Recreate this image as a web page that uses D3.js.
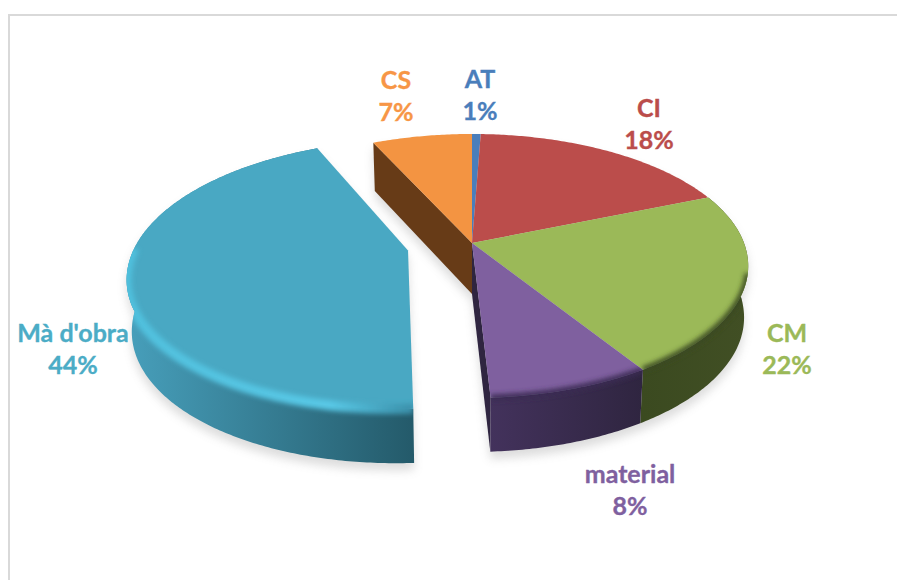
<!DOCTYPE html>
<html><head><meta charset="utf-8">
<script src="https://cdn.jsdelivr.net/npm/d3@7"></script>
<style>html,body{margin:0;padding:0;background:#fff}svg{display:block}text{font-family:Lato,sans-serif;font-weight:700;font-size:25px;stroke-width:.35px;paint-order:stroke}</style>
</head><body><svg id="c" width="897" height="580"></svg>
<script>
const categories=["AT","CI","CM","material","Mà d'obra","CS"];
const values=[0.6,18.2,22.2,8.1,44,6.9];
const topColors=["#4a7ebb","#bb4d4b","#9bb958","#7f609f","#49a8c3","#f39442"];
const sideColors=[["#2f4b70","#2f4b70"],["#6f2d2c","#6f2d2c"],["#3b4a20","#414f24"],["#43325c","#2f2540"],["#479fbb","#245a6a"],["#673b17","#673b17"]];
const rimColors=[null,null,"#3b4a20","#3a2c52",null,null];
const labelColors=["#4a7ebb","#bb4d4b","#9bb958","#7f609f","#4bacc6","#f79646"];
const labelPos=[[480,79],[649,108],[787,333],[630,474],[73,333],[396,80]];
const exploded=[0,0,0,0,0.24,0];

const svg=d3.select("#c");
const defs=svg.append("defs");
const cx=472,cy=243,rx=272,ry=128,k=-0.174,shrink=.985;
function proj(u,v,down){
  const den=1+k*v, x=rx*u/den, y=cy+ry*v/den;
  return down?[cx+x*shrink,y+51+3*v]:[cx+x,y];
}
const arcs=d3.pie().sort(null).value(d=>d).startAngle(0).endAngle(2*Math.PI)(values);
const line=d3.line();
const fmt=d=>Math.round(d)+"%";
const total=d3.sum(values);

function blur(id,sd){
  defs.append("filter").attr("id",id).attr("filterUnits","userSpaceOnUse")
    .attr("x",0).attr("y",0).attr("width",897).attr("height",580)
    .append("feGaussianBlur").attr("stdDeviation",sd);
}
blur("sh",5); blur("rb",2.4);

svg.append("rect").attr("x",9).attr("y",15).attr("width",1000).attr("height",1000)
  .attr("fill","none").attr("stroke","#d9d9d9").attr("stroke-width",2);

categories.forEach((c,i)=>{
  const t=svg.append("text").attr("text-anchor","middle").attr("fill",labelColors[i]).attr("stroke",labelColors[i]);
  t.append("tspan").attr("x",labelPos[i][0]).attr("y",labelPos[i][1]+9).text(c);
  t.append("tspan").attr("x",labelPos[i][0]).attr("y",labelPos[i][1]+41).text(fmt(values[i]/total*100));
});

function rim(a,e,down){
  const mid=(a.startAngle+a.endAngle)/2, ox=Math.sin(mid)*e, oy=-Math.cos(mid)*e;
  const n=Math.max(2,Math.ceil((a.endAngle-a.startAngle)*90)), pts=[];
  d3.range(n+1).forEach(j=>{
    const t=a.startAngle+(a.endAngle-a.startAngle)*j/n;
    pts.push(proj(Math.sin(t)+ox,-Math.cos(t)+oy,down));
  });
  return {pts,apex:proj(ox,oy,down)};
}
const slices=arcs.map((a,i)=>({a,i,e:exploded[i],top:rim(a,exploded[i],false),bot:rim(a,exploded[i],true)}));
const wedge=s=>line([s.top.apex,...s.top.pts])+"Z";
const band=s=>line([...s.top.pts,...s.bot.pts.slice().reverse()])+"Z";
const under=s=>line([s.bot.apex,...s.bot.pts])+"Z";

const sh=svg.append("g").attr("filter","url(#sh)").attr("opacity",.25).attr("transform","translate(0,7)");
slices.forEach(s=>[wedge,band,under].forEach(f=>sh.append("path").attr("d",f(s)).attr("fill","#777")));

slices.forEach(s=>{
  const xs=s.top.pts.map(p=>p[0]);
  const g=defs.append("linearGradient").attr("id","side"+s.i).attr("gradientUnits","userSpaceOnUse")
    .attr("x1",d3.min(xs)).attr("x2",d3.max(xs)).attr("y1",0).attr("y2",0);
  g.append("stop").attr("offset",0).attr("stop-color",sideColors[s.i][0]);
  g.append("stop").attr("offset",1).attr("stop-color",sideColors[s.i][1]);
  const cp=defs.append("clipPath").attr("id","clip"+s.i);
  cp.append("path").attr("d",wedge(s));
  cp.append("path").attr("d",band(s));
});
const rimG=defs.append("linearGradient").attr("id","rimBright").attr("gradientUnits","userSpaceOnUse")
  .attr("x1",130).attr("x2",415).attr("y1",0).attr("y2",0);
[[0,"#50c0dd"],[.7,"#58c8e6"],[1,"#3a8ea8"]].forEach(d=>rimG.append("stop").attr("offset",d[0]).attr("stop-color",d[1]));

const g=svg.append("g");
[[5,"start"],[3,"end"]].forEach(([i,end])=>{
  const s=slices[i], tp=end==="start"?s.top.pts[0]:s.top.pts[s.top.pts.length-1], bp=end==="start"?s.bot.pts[0]:s.bot.pts[s.bot.pts.length-1];
  g.append("path").attr("d",line([s.top.apex,tp,bp,s.bot.apex])+"Z")
   .attr("fill",i===5?sideColors[5][0]:sideColors[3][1]);
});
slices.forEach(s=>{
  if(s.i===5||s.i<2) return;
  g.append("path").attr("d",band(s)).attr("fill",`url(#side${s.i})`);
});
slices.forEach(s=>{
  g.append("path").attr("d",wedge(s)).attr("fill",topColors[s.i]);
});
slices.forEach(s=>{
  const col=s.i===4?"url(#rimBright)":rimColors[s.i];
  if(!col) return;
  const n=s.top.pts.length;
  const pts=s.top.pts.filter((p,j)=>{
    const t=s.a.startAngle+(s.a.endAngle-s.a.startAngle)*j/(n-1);
    return -Math.cos(t)>(s.i===4?-0.02:0.22);
  });
  g.append("g").attr("clip-path",`url(#clip${s.i})`)
   .append("path").attr("d",line(pts)).attr("fill","none").attr("stroke",col)
   .attr("stroke-width",s.i===4?10:6).attr("filter","url(#rb)");
});
</script></body></html>
